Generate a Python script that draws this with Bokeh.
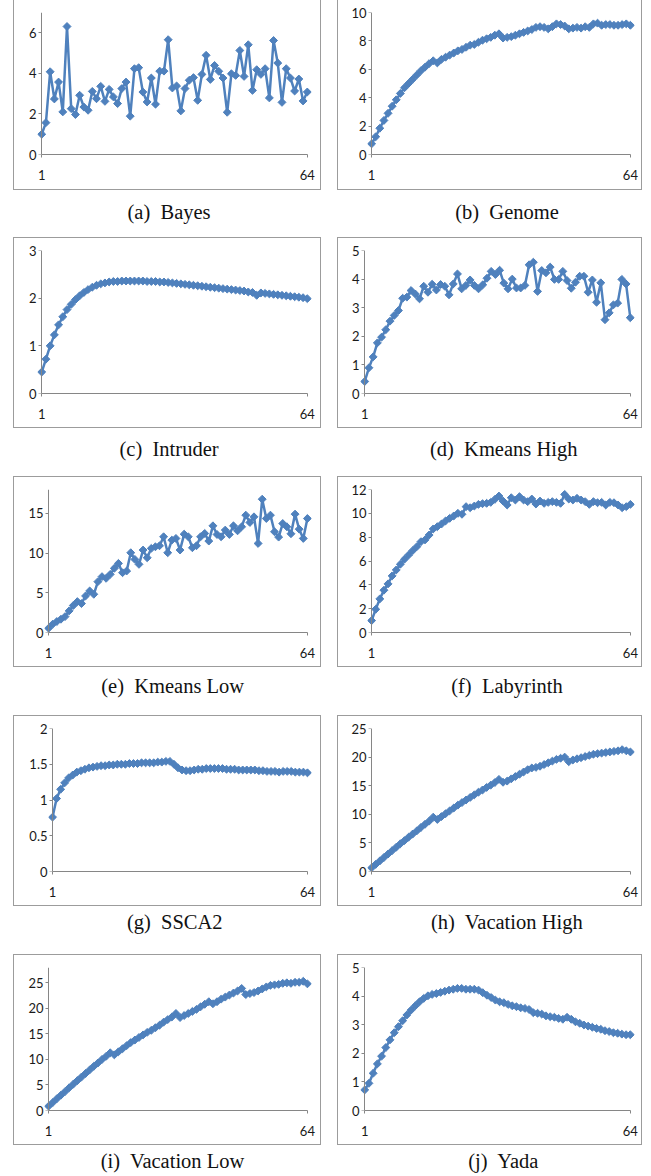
import numpy as np
from bokeh.plotting import figure
from bokeh.models import Range1d, FixedTicker, NumeralTickFormatter, Spacer, ColumnDataSource, LinearAxis
from bokeh.layouts import row, column
from bokeh.embed import file_html
from bokeh.resources import INLINE
from bokeh.core.properties import value

# ---------------- data ----------------
thread_index = list(range(1, 65))
x_tick_values = [1, 64]

bayes = [1.0, 1.57, 4.08, 2.74, 3.57, 2.1, 6.31, 2.26, 1.97, 2.92, 2.34, 2.18, 3.11, 2.75, 3.36, 2.62,
         3.21, 2.84, 2.51, 3.25, 3.57, 1.89, 4.23, 4.28, 3.08, 2.59, 3.77, 2.48, 4.11, 4.11, 5.66, 3.28,
         3.38, 2.15, 3.25, 3.66, 3.79, 2.67, 3.95, 4.89, 3.70, 4.39, 4.10, 3.77, 2.08, 3.98, 3.90, 5.13,
         3.85, 5.41, 3.16, 4.18, 3.95, 4.23, 2.79, 5.62, 4.51, 2.57, 4.23, 3.77, 3.13, 3.72, 2.64, 3.08]

genome = [0.75, 1.25, 1.85, 2.4, 2.9, 3.4, 3.85, 4.3, 4.7, 5.0, 5.3, 5.6, 5.9, 6.15, 6.4, 6.6,
          6.45, 6.7, 6.85, 7.0, 7.15, 7.3, 7.4, 7.55, 7.7, 7.75, 7.9, 8.05, 8.15, 8.25, 8.4, 8.5,
          8.2, 8.25, 8.3, 8.4, 8.5, 8.6, 8.7, 8.8, 8.95, 9.0, 8.95, 8.85, 9.0, 9.2, 9.15, 9.05,
          8.85, 8.9, 8.95, 8.9, 9.0, 8.95, 9.2, 9.25, 9.1, 9.15, 9.15, 9.1, 9.1, 9.15, 9.2, 9.1]

intruder = [0.45, 0.72, 1.0, 1.23, 1.44, 1.61, 1.76, 1.87, 1.97, 2.05, 2.12, 2.18, 2.23, 2.27, 2.30, 2.32,
            2.34, 2.35, 2.35, 2.36, 2.36, 2.36, 2.36, 2.36, 2.36, 2.35, 2.35, 2.35, 2.34, 2.34, 2.33, 2.32,
            2.31, 2.30, 2.29, 2.28, 2.27, 2.26, 2.25, 2.24, 2.23, 2.22, 2.21, 2.20, 2.19, 2.18, 2.17, 2.16,
            2.15, 2.13, 2.12, 2.06, 2.11, 2.10, 2.09, 2.08, 2.07, 2.06, 2.05, 2.04, 2.03, 2.02, 2.01, 1.99]

kmeans_high = [0.42, 0.9, 1.28, 1.77, 1.97, 2.23, 2.53, 2.73, 2.9, 3.33, 3.37, 3.6, 3.48, 3.31, 3.75, 3.54,
               3.82, 3.62, 3.81, 3.75, 3.45, 3.83, 4.18, 3.66, 3.78, 3.97, 3.78, 3.66, 3.8, 4.03, 4.27, 4.16,
               4.31, 3.86, 3.66, 4.0, 3.69, 3.69, 3.78, 4.5, 4.59, 3.57, 4.3, 4.22, 4.42, 3.99, 3.99, 4.27,
               3.95, 3.68, 3.89, 4.1, 4.1, 3.54, 3.97, 3.19, 3.87, 2.58, 2.82, 3.1, 3.16, 3.99, 3.83, 2.65]

kmeans_low = [0.54, 1.05, 1.38, 1.67, 2.0, 2.72, 3.39, 3.89, 3.64, 4.6, 5.23, 4.81, 6.4, 7.03, 6.82, 7.32,
              8.08, 8.7, 7.53, 7.74, 10.04, 9.2, 8.58, 10.38, 9.41, 10.59, 10.79, 10.92, 12.05, 10.04, 11.63, 11.84,
              10.38, 12.38, 12.05, 10.67, 10.92, 12.05, 12.47, 11.51, 13.43, 12.34, 12.05, 12.89, 12.34, 13.43, 12.8, 13.31,
              14.77, 13.85, 14.56, 11.21, 16.78, 14.35, 14.77, 12.68, 12.01, 13.72, 13.31, 12.43, 14.9, 13.01, 11.84, 14.35]

labyrinth = [1.0, 1.95, 2.82, 3.55, 4.08, 4.75, 5.25, 5.73, 6.15, 6.5, 6.87, 7.2, 7.62, 7.77, 8.18, 8.69,
             8.88, 9.1, 9.36, 9.58, 9.78, 10.0, 9.92, 10.56, 10.47, 10.61, 10.75, 10.81, 10.84, 10.92, 11.17, 11.45,
             11.03, 10.7, 11.31, 11.12, 11.4, 11.12, 10.98, 11.2, 10.78, 11.03, 10.84, 10.92, 10.98, 10.92, 10.84, 11.59,
             11.2, 11.12, 11.26, 11.12, 10.98, 10.75, 10.98, 10.89, 10.92, 10.7, 10.92, 10.89, 10.7, 10.47, 10.56, 10.75]

ssca2 = [0.76, 1.02, 1.15, 1.24, 1.31, 1.35, 1.39, 1.41, 1.43, 1.45, 1.46, 1.47, 1.48, 1.48, 1.49, 1.49,
         1.50, 1.50, 1.50, 1.51, 1.51, 1.51, 1.52, 1.52, 1.52, 1.52, 1.53, 1.53, 1.54, 1.54, 1.50, 1.45,
         1.42, 1.41, 1.41, 1.42, 1.43, 1.43, 1.44, 1.44, 1.44, 1.44, 1.44, 1.43, 1.43, 1.43, 1.42, 1.42,
         1.42, 1.42, 1.42, 1.41, 1.41, 1.40, 1.40, 1.40, 1.39, 1.40, 1.40, 1.40, 1.39, 1.39, 1.39, 1.38]

vacation_high = [0.64, 1.25, 1.85, 2.45, 3.05, 3.65, 4.25, 4.85, 5.4, 6.0, 6.55, 7.1, 7.7, 8.25, 8.8, 9.5,
                 9.1, 9.6, 10.1, 10.6, 11.1, 11.6, 12.05, 12.5, 12.95, 13.4, 13.85, 14.25, 14.7, 15.1, 15.55, 16.1,
                 15.6, 15.8, 16.2, 16.6, 17.0, 17.4, 17.8, 18.1, 18.2, 18.4, 18.7, 19.0, 19.3, 19.6, 19.8, 20.0,
                 19.2, 19.5, 19.7, 19.9, 20.1, 20.3, 20.5, 20.6, 20.7, 20.8, 20.9, 21.0, 21.1, 21.3, 21.1, 20.9]

vacation_low = [0.85, 1.55, 2.3, 3.0, 3.7, 4.45, 5.15, 5.85, 6.55, 7.25, 7.95, 8.65, 9.3, 10.0, 10.6, 11.3,
                10.9, 11.5, 12.1, 12.7, 13.3, 13.8, 14.3, 14.8, 15.3, 15.7, 16.2, 16.7, 17.3, 17.8, 18.3, 19.0,
                18.2, 18.6, 19.0, 19.4, 19.8, 20.3, 20.8, 21.3, 20.9, 21.3, 21.8, 22.2, 22.6, 23.0, 23.4, 23.9,
                22.7, 22.9, 23.1, 23.4, 23.8, 24.2, 24.5, 24.6, 24.7, 24.9, 25.0, 24.9, 25.1, 25.1, 25.3, 24.8]

yada = [0.72, 0.95, 1.3, 1.63, 1.9, 2.2, 2.47, 2.72, 2.93, 3.14, 3.34, 3.51, 3.66, 3.8, 3.92, 4.01,
        4.06, 4.09, 4.13, 4.17, 4.21, 4.24, 4.27, 4.27, 4.24, 4.24, 4.24, 4.21, 4.12, 4.03, 3.95, 3.86,
        3.8, 3.77, 3.71, 3.66, 3.63, 3.59, 3.57, 3.53, 3.42, 3.4, 3.37, 3.31, 3.28, 3.26, 3.22, 3.19,
        3.26, 3.19, 3.1, 3.05, 2.99, 2.95, 2.91, 2.87, 2.84, 2.79, 2.76, 2.72, 2.7, 2.67, 2.65, 2.65]

captions = ["(a)\u00a0 Bayes", "(b)\u00a0 Genome", "(c)\u00a0 Intruder", "(d)\u00a0 Kmeans High",
            "(e)\u00a0 Kmeans Low", "(f)\u00a0 Labyrinth", "(g)\u00a0 SSCA2", "(h)\u00a0 Vacation High",
            "(i)\u00a0 Vacation Low", "(j)\u00a0 Yada"]
series = [bayes, genome, intruder, kmeans_high, kmeans_low, labyrinth, ssca2, vacation_high, vacation_low, yada]
y_max = [7, 10, 3, 5, 18, 12, 2, 25, 28, 5]
y_ticks = [[0, 2, 4, 6], [0, 2, 4, 6, 8, 10], [0, 1, 2, 3], [0, 1, 2, 3, 4, 5], [0, 5, 10, 15],
           [0, 2, 4, 6, 8, 10, 12], [0, 0.5, 1, 1.5, 2], [0, 5, 10, 15, 20, 25], [0, 5, 10, 15, 20, 25],
           [0, 1, 2, 3, 4, 5]]

# ---------------- layout / style ----------------
LINE = "#4F81BD"
AXIS = "#868686"
BOXC = "#9c9c9c"
TICK_FONT = "Lato"
TICK_SIZE = "13px"
W_L, W_R = 308, 305
axis_px = [27, 33, 27, 26, 34, 33, 38, 33, 34, 26]
end_px = [293, 292, 293, 292, 293, 292, 293, 292, 293, 292]
box_h = [190, 190, 191, 191, 191, 191, 191, 191, 191, 191]
cap_h = [47, 47, 48, 48, 48, 48, 48, 48, 31, 31]
cap_base = [21.5, 21.5, 20.5, 20.5, 18, 18, 15, 15, 15, 15]
cap_dx = [-5, 8, -5, 8, -5, 8, -5, 8, -5, 8]


def style_axis(ax):
    ax.axis_line_color = AXIS
    ax.major_tick_line_color = AXIS
    ax.minor_tick_line_color = None
    ax.major_label_text_font = TICK_FONT
    ax.major_label_text_font_size = TICK_SIZE
    ax.major_label_text_color = "#1a1a1a"


def make_panel(i):
    W = W_L if i % 2 == 0 else W_R
    H = box_h[i]
    pu = (end_px[i] - axis_px[i]) / 63.0
    mbl = int(round(axis_px[i] - pu))
    mbr = int(round(W - (end_px[i] + pu)))
    src = ColumnDataSource(dict(x=thread_index, y=series[i]))
    border = {"border": "1px solid " + BOXC, "box-sizing": "border-box"}
    if i < 2:
        border = {"border-left": "1px solid " + BOXC, "border-right": "1px solid " + BOXC,
                  "border-bottom": "1px solid " + BOXC, "box-sizing": "border-box"}
    p = figure(width=W, height=H, output_backend="svg", toolbar_location=None, title=None,
               x_range=Range1d(0, 65), y_range=Range1d(0, y_max[i]),
               min_border_left=mbl, min_border_right=mbr, min_border_top=12,
               min_border_bottom=36, styles=border)
    p.outline_line_color = None
    p.xgrid.visible = False
    p.ygrid.visible = False
    p.line("x", "y", source=src, line_color=LINE, line_width=2.5)
    p.scatter("x", "y", source=src, marker="square", angle=np.pi / 4, size=5.6,
              fill_color=LINE, line_color=LINE)

    xa = p.xaxis[0]
    xa.ticker = FixedTicker(ticks=x_tick_values, minor_ticks=[])
    xa.bounds = (1, 64)
    style_axis(xa)
    xa.major_tick_in = 0
    xa.major_tick_out = 3
    xa.major_label_standoff = 12

    # tick labels of the value axis (left side)
    ya = p.yaxis[0]
    ya.ticker = FixedTicker(ticks=y_ticks[i], minor_ticks=[])
    ya.formatter = NumeralTickFormatter(format="0.[0]")
    style_axis(ya)
    ya.axis_line_color = None
    ya.major_tick_line_color = None
    ya.major_tick_in = 0
    ya.major_tick_out = 0
    ya.major_label_standoff = 1

    # value axis line and ticks, placed at the first category
    yl = LinearAxis(ticker=FixedTicker(ticks=y_ticks[i], minor_ticks=[]), fixed_location=1,
                    bounds=(0, y_max[i]))
    style_axis(yl)
    yl.major_tick_in = 3
    yl.major_tick_out = 0
    yl.major_label_text_font_size = "0px"
    yl.major_label_text_color = None
    yl.major_label_standoff = 0
    p.add_layout(yl, "right")

    c = figure(width=W, height=cap_h[i], output_backend="svg", toolbar_location=None, title=None,
               x_range=Range1d(0, W), y_range=Range1d(0, cap_h[i]),
               x_axis_type=None, y_axis_type=None, min_border=0)
    c.outline_line_color = None
    c.xgrid.visible = False
    c.ygrid.visible = False
    cx = W / 2.0 + cap_dx[i]
    c.text(x=[cx], y=[cap_h[i] - cap_base[i]], text=[captions[i]],
           text_font=value("Liberation Serif"), text_font_size="20.5px",
           text_align="center", text_baseline="alphabetic", text_color="#111111")
    return column(p, c)


rows = []
for r in range(5):
    rows.append(row(Spacer(width=13, height=10), make_panel(2 * r), Spacer(width=16, height=10),
                    make_panel(2 * r + 1)))
layout = column(*rows)

open("out.html", "w").write(file_html(layout, INLINE))
